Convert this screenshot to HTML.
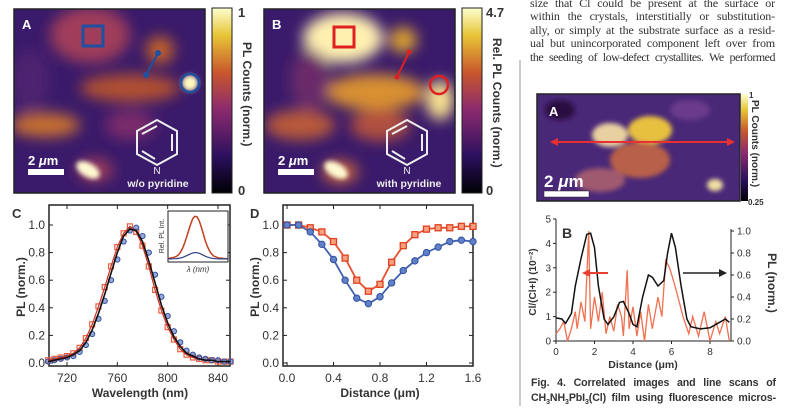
<!DOCTYPE html>
<html><head><meta charset="utf-8"><style>
body{margin:0;background:#fff;width:800px;height:406px;overflow:hidden;font-family:"Liberation Sans",sans-serif}
svg{position:absolute;left:0;top:0}
.t{font-family:"Liberation Sans",sans-serif;fill:#333}
.para{position:absolute;left:530px;top:-3px;width:245px;font-family:"Liberation Serif",serif;font-size:12px;line-height:13.4px;color:#333;letter-spacing:-0.15px}
.para div{text-align:justify;text-align-last:justify;white-space:nowrap;overflow:visible}
.cap{position:absolute;left:531px;top:376px;width:245px;font-family:"Liberation Sans",sans-serif;font-weight:bold;font-size:10.6px;line-height:15px;color:#333;text-align:justify;text-align-last:justify;letter-spacing:-0.1px}
</style></head><body>
<div class="para">
<div style="white-space:normal">size that Cl could be present at the surface or</div>
<div style="white-space:normal">within the crystals, interstitially or substitution-</div>
<div style="white-space:normal">ally, or simply at the substrate surface as a resid-</div>
<div style="white-space:normal">ual but unincorporated component left over from</div>
<div style="white-space:normal;letter-spacing:-0.5px">the seeding of low-defect crystallites. We performed</div>
</div>
<div class="cap">Fig. 4. Correlated images and line scans of CH<sub style="font-size:7px">3</sub>NH<sub style="font-size:7px">3</sub>PbI<sub style="font-size:7px">3</sub>(Cl) film using fluorescence micros-</div>
<svg id="s" width="800" height="406" xmlns="http://www.w3.org/2000/svg">
<defs>
<filter id="bl" x="-50%" y="-50%" width="200%" height="200%"><feGaussianBlur stdDeviation="7"/></filter>
<filter id="bl2" x="-50%" y="-50%" width="200%" height="200%"><feGaussianBlur stdDeviation="2.5"/></filter>
<linearGradient id="cb" x1="0" y1="1" x2="0" y2="0">
<stop offset="0" stop-color="#000004"/><stop offset="0.2" stop-color="#2c115f"/><stop offset="0.45" stop-color="#8c2a6e"/><stop offset="0.65" stop-color="#c8562c"/><stop offset="0.85" stop-color="#e8c436"/><stop offset="1" stop-color="#fcffd0"/></linearGradient>
<clipPath id="ca"><rect x="14" y="9" width="191" height="184"/></clipPath>
<clipPath id="cbp"><rect x="264" y="9" width="191" height="184"/></clipPath>
<clipPath id="cc"><rect x="537" y="94" width="203" height="107"/></clipPath>
</defs>
<line x1="520" y1="60" x2="520" y2="406" stroke="#999" stroke-width="1"/>
<g clip-path="url(#ca)">
<rect x="14" y="9" width="191" height="184" fill="#3a1a6a"/>
<g filter="url(#bl)">
<ellipse cx="90" cy="35" rx="40" ry="28" fill="#a03c5a"/>
<ellipse cx="160" cy="50" rx="14" ry="14" fill="#c0602a"/>
<ellipse cx="130" cy="88" rx="50" ry="14" fill="#b05030"/>
<ellipse cx="45" cy="125" rx="35" ry="12" fill="#c87030"/>
<ellipse cx="130" cy="125" rx="25" ry="15" fill="#7a2a6a"/>
<ellipse cx="30" cy="80" rx="20" ry="30" fill="#4e2070"/>
<ellipse cx="95" cy="170" rx="18" ry="12" fill="#9a3a5a"/>
</g>
<ellipse cx="88" cy="170" rx="13" ry="7" transform="rotate(30 88 170)" fill="#fff8d0" filter="url(#bl2)"/>
<circle cx="190" cy="83" r="8" fill="#fff8c0" filter="url(#bl2)"/>
</g>
<rect x="14" y="9" width="191" height="184" fill="none" stroke="#222" stroke-width="1.5"/>
<rect x="83" y="26" width="20" height="20" fill="none" stroke="#2050a0" stroke-width="3"/>
<line x1="158" y1="53" x2="146" y2="75" stroke="#2050a0" stroke-width="2"/>
<circle cx="158" cy="53" r="3" fill="#2050a0"/><circle cx="146" cy="75" r="3" fill="#2050a0"/>
<circle cx="190" cy="83" r="9" fill="none" stroke="#2050a0" stroke-width="2.5"/>
<text x="22" y="29" class="t" style="fill:#fff;font-weight:bold;font-size:13px">A</text>
<text x="28" y="165" class="t" style="fill:#fff;font-weight:bold;font-size:13px">2 <tspan font-style="italic">μ</tspan>m</text>
<rect x="28" y="169" width="36" height="6" fill="#fff"/>
<g stroke="#eee" stroke-width="2" fill="none"><polygon points="157,120 177,131 177,154 157,165 137,154 137,131"/><line x1="142" y1="134" x2="157" y2="126"/><line x1="172" y1="134" x2="172" y2="151"/><line x1="142" y1="151" x2="155" y2="159"/></g>
<text x="157" y="174" class="t" text-anchor="middle" style="fill:#eee;font-size:10px">N</text>
<text x="158" y="187" class="t" text-anchor="middle" style="fill:#eee;font-size:10.5px;font-weight:bold">w/o pyridine</text>
<rect x="212" y="8" width="20" height="185" fill="url(#cb)" stroke="#222"/>
<text x="238" y="17" class="t" style="font-weight:bold;font-size:13px">1</text>
<text x="238" y="195" class="t" style="font-weight:bold;font-size:13px">0</text>
<text transform="translate(243,42) rotate(90)" class="t" style="font-weight:bold;font-size:12px">PL Counts (norm.)</text>
<g clip-path="url(#cbp)">
<rect x="264" y="9" width="191" height="184" fill="#3a1a6a"/>
<g filter="url(#bl)">
<ellipse cx="343" cy="38" rx="40" ry="25" fill="#fff0b0"/>
<ellipse cx="403" cy="40" rx="14" ry="13" fill="#d8a030"/>
<ellipse cx="375" cy="92" rx="50" ry="18" fill="#d89030"/>
<ellipse cx="300" cy="125" rx="35" ry="15" fill="#b85a3a"/>
<ellipse cx="380" cy="125" rx="30" ry="16" fill="#b05040"/>
<ellipse cx="310" cy="80" rx="20" ry="30" fill="#6a2a6a"/>
<ellipse cx="440" cy="100" rx="14" ry="20" fill="#f8e090"/>
<ellipse cx="340" cy="172" rx="18" ry="12" fill="#c06040"/>
</g>
<ellipse cx="336" cy="170" rx="13" ry="7" transform="rotate(30 336 170)" fill="#fff8d0" filter="url(#bl2)"/>
</g>
<rect x="264" y="9" width="191" height="184" fill="none" stroke="#222" stroke-width="1.5"/>
<rect x="334" y="27" width="20" height="20" fill="none" stroke="#e02020" stroke-width="3"/>
<line x1="409" y1="52" x2="397" y2="77" stroke="#e02020" stroke-width="2"/>
<circle cx="409" cy="52" r="2.5" fill="#e02020"/><circle cx="397" cy="77" r="2.5" fill="#e02020"/>
<circle cx="439" cy="85" r="9" fill="none" stroke="#e02020" stroke-width="2.5"/>
<text x="272" y="29" class="t" style="fill:#fff;font-weight:bold;font-size:13px">B</text>
<text x="278" y="165" class="t" style="fill:#fff;font-weight:bold;font-size:13px">2 <tspan font-style="italic">μ</tspan>m</text>
<rect x="278" y="169" width="36" height="6" fill="#fff"/>
<g stroke="#eee" stroke-width="2" fill="none"><polygon points="407,120 427,131 427,154 407,165 387,154 387,131"/><line x1="392" y1="134" x2="407" y2="126"/><line x1="422" y1="134" x2="422" y2="151"/><line x1="392" y1="151" x2="405" y2="159"/></g>
<text x="407" y="174" class="t" text-anchor="middle" style="fill:#eee;font-size:10px">N</text>
<text x="409" y="187" class="t" text-anchor="middle" style="fill:#eee;font-size:10.5px;font-weight:bold">with pyridine</text>
<rect x="462" y="8" width="20" height="185" fill="url(#cb)" stroke="#222"/>
<text x="486" y="17" class="t" style="font-weight:bold;font-size:13px">4.7</text>
<text x="486" y="195" class="t" style="font-weight:bold;font-size:13px">0</text>
<text transform="translate(493,38) rotate(90)" class="t" style="font-weight:bold;font-size:12px">Rel. PL Counts (norm.)</text>
<g clip-path="url(#cc)">
<rect x="537" y="94" width="203" height="107" fill="#4a2878"/>
<g filter="url(#bl2)">
<ellipse cx="610" cy="135" rx="18" ry="12" fill="#e8d0a0"/>
<ellipse cx="650" cy="130" rx="22" ry="14" fill="#e8c040"/>
<ellipse cx="640" cy="160" rx="30" ry="18" fill="#b86048"/>
<ellipse cx="690" cy="110" rx="20" ry="10" fill="#6a3a8a"/>
<ellipse cx="600" cy="180" rx="25" ry="12" fill="#a05a70"/>
<ellipse cx="715" cy="185" rx="8" ry="6" fill="#f0e0a0"/>
<ellipse cx="560" cy="110" rx="15" ry="10" fill="#2a1040"/>
</g>
</g>
<rect x="537" y="94" width="203" height="107" fill="none" stroke="#222" stroke-width="1.5"/>
<line x1="552" y1="142" x2="733" y2="142" stroke="#e83030" stroke-width="2"/>
<polygon points="550,142 558,138 558,146" fill="#e83030"/><polygon points="735,142 727,138 727,146" fill="#e83030"/>
<text x="549" y="116" class="t" style="fill:#fff;font-weight:bold;font-size:13px">A</text>
<text x="544" y="187" class="t" style="fill:#fff;font-weight:bold;font-size:17px">2 <tspan font-style="italic">μ</tspan>m</text>
<rect x="544" y="191" width="45" height="6" fill="#fff" stroke="#222" stroke-width="0.5"/>
<rect x="741" y="94" width="7" height="107" fill="url(#cb)"/>
<text x="749" y="98" class="t" style="font-weight:bold;font-size:8px">1</text>
<text x="748" y="205" class="t" style="font-weight:bold;font-size:8px">0.25</text>
<text transform="translate(752,100) rotate(90)" class="t" style="font-weight:bold;font-size:10px">PL Counts (norm.)</text>
<g id="C"></g><g id="D"></g><g id="E"></g>
</svg>
<script>
const wlC = [705,710,715,720,725,730,735,740,745,750,755,760,765,770,775,780,785,790,795,800,805,810,815,820,825,830,835,840,845,850];
const plRed = [0.02,0.03,0.04,0.05,0.07,0.11,0.18,0.28,0.41,0.55,0.70,0.84,0.94,0.99,0.95,0.85,0.70,0.53,0.38,0.26,0.17,0.10,0.06,0.04,0.03,0.02,0.02,0.01,0.01,0.01];
const plBlue = [0.01,0.02,0.03,0.04,0.05,0.08,0.13,0.21,0.32,0.45,0.60,0.75,0.88,0.96,0.98,0.92,0.80,0.64,0.48,0.34,0.23,0.15,0.09,0.06,0.04,0.03,0.02,0.02,0.01,0.01];
const plFit = [0.01,0.02,0.03,0.04,0.06,0.09,0.15,0.24,0.36,0.50,0.65,0.80,0.92,0.97,0.96,0.88,0.74,0.58,0.42,0.29,0.19,0.12,0.07,0.05,0.03,0.02,0.02,0.01,0.01,0.01];
const xTicksC = [720,760,800,840];
const yTicks = [0.0,0.2,0.4,0.6,0.8,1.0];
const distD = [0,0.1,0.2,0.3,0.4,0.5,0.6,0.7,0.8,0.9,1.0,1.1,1.2,1.3,1.4,1.5,1.6];
const dRed = [1.0,1.0,0.98,0.95,0.88,0.76,0.60,0.52,0.57,0.73,0.85,0.93,0.97,0.98,0.98,0.99,0.99];
const dBlue = [1.0,1.0,0.95,0.86,0.75,0.60,0.47,0.43,0.48,0.58,0.67,0.74,0.80,0.84,0.88,0.89,0.88];
const xTicksD = [0.0,0.4,0.8,1.2,1.6];
const distPL = [0,0.3,0.5,0.8,1.0,1.3,1.6,1.8,2.0,2.2,2.5,2.7,3.0,3.3,3.5,3.8,4.0,4.2,4.5,4.8,5.0,5.3,5.6,5.8,6.0,6.2,6.5,6.8,7.0,7.5,8.0,8.5,8.8,9.0];
const plLine = [0.21,0.2,0.16,0.25,0.5,0.75,0.97,0.98,0.85,0.5,0.2,0.15,0.22,0.35,0.36,0.25,0.15,0.13,0.4,0.6,0.58,0.5,0.55,0.8,0.98,0.85,0.5,0.2,0.13,0.11,0.12,0.17,0.2,0.17];
const distCl = [0,0.2,0.4,0.6,0.8,1.0,1.1,1.3,1.5,1.7,1.8,2.0,2.2,2.4,2.6,2.8,3.0,3.2,3.4,3.5,3.7,3.8,4.0,4.2,4.4,4.6,4.8,5.0,5.3,5.5,5.7,5.9,6.2,6.6,6.9,7.1,7.4,7.7,8.0,8.3,8.5,8.8,9.0];
const clVals = [0.3,0.5,0.8,0.0,0.5,1.2,0.5,1.6,0.8,4.5,0.5,1.8,0.8,2.0,0.3,1.0,0.4,1.5,1.0,0.2,2.9,0.5,1.4,0.2,1.2,0.0,1.5,0.5,1.8,1.0,3.3,3.0,2.2,1.0,0.3,1.0,0.2,1.2,0.0,0.8,0.3,1.0,0.0];
const xTicksE = [0,2,4,6,8];
const yTicksL = [0,1,2,3,4,5];
const yTicksR = [0.0,0.2,0.4,0.6,0.8,1.0];

const NS='http://www.w3.org/2000/svg';
function mk(p,tag,a){const e=document.createElementNS(NS,tag);for(const k in a)e.setAttribute(k,a[k]);p.appendChild(e);return e;}
function txt(p,x,y,s,size,anchor,extra){const e=mk(p,'text',{x:x,y:y,'font-size':size,'text-anchor':anchor||'middle',class:'t'});if(extra)e.setAttribute('style',extra);e.textContent=s;return e;}
function path(xs,ys,fx,fy){return xs.map((v,i)=>(i?'L':'M')+fx(v).toFixed(1)+','+fy(ys[i]).toFixed(1)).join('');}

(function(){
const g=document.getElementById('C');
const L=49,R=230,T=205,B=366;
const fx=v=>67+(v-720)*(218-67)/120, fy=v=>363-v*138;
mk(g,'rect',{x:L,y:T,width:R-L,height:B-T,fill:'none',stroke:'#222','stroke-width':1.5});
xTicksC.forEach(v=>{const t=mk(g,'line',{x1:fx(v),x2:fx(v),y1:B,y2:B-4,stroke:'#222'});mk(g,'line',{x1:fx(v),x2:fx(v),y1:T,y2:T+4,stroke:'#222'});txt(g,fx(v),382,String(v),12);});
yTicks.forEach(v=>{mk(g,'line',{x1:L,x2:L+4,y1:fy(v),y2:fy(v),stroke:'#222'});mk(g,'line',{x1:R,x2:R-4,y1:fy(v),y2:fy(v),stroke:'#222'});txt(g,L-4,fy(v)+4,v.toFixed(1),12,'end');});
txt(g,140,397,'Wavelength (nm)',12,'middle','font-weight:bold');
const yl=txt(g,0,0,'PL (norm.)',12,'middle','font-weight:bold');yl.setAttribute('transform','translate(25,287) rotate(-90)');
txt(g,12,218,'C',13,'start','font-weight:bold');
const r=mk(g,'g',{});
wlC.forEach((w,i)=>{mk(r,'rect',{x:fx(w)-2.5,y:fy(plRed[i])-2.5,width:5,height:5,fill:'none',stroke:'#e86040','stroke-width':1.2});});
const b=mk(g,'g',{});
wlC.forEach((w,i)=>{mk(b,'circle',{cx:fx(w),cy:fy(plBlue[i]),r:2.6,fill:'#5070c0','fill-opacity':0.6,stroke:'#3050a0'});});
mk(g,'path',{d:path(wlC,plRed,fx,fy),fill:'none',stroke:'#d03020','stroke-width':1.2});
const f=mk(g,'path',{d:path(wlC,plFit,fx,fy),fill:'none',stroke:'#111','stroke-width':1.6});
const il=168,ir=228,it=211,ib=262;
mk(g,'rect',{x:il,y:it,width:ir-il,height:ib-it,fill:'#fff',stroke:'#222'});
const ifx=v=>il+(v-705)*(ir-il)/145, ify=v=>ib-3-v*44;
mk(g,'path',{d:path(wlC,plFit,ifx,ify),fill:'none',stroke:'#c04020','stroke-width':1.5});
mk(g,'path',{d:path(wlC,plFit.map(v=>v*0.15),ifx,ify),fill:'none',stroke:'#304080','stroke-width':1.2});
const il1=txt(g,0,0,'Rel. PL Int.',7,'middle');il1.setAttribute('transform','translate(164,236) rotate(-90)');
txt(g,198,272,'λ (nm)',8,'middle','font-style:italic');
})();

(function(){
const g=document.getElementById('D');
const L=283,R=473,T=205,B=366;
const fx=v=>287+v*(473-287)/1.6, fy=v=>363-v*138;
mk(g,'rect',{x:L,y:T,width:R-L,height:B-T,fill:'none',stroke:'#222','stroke-width':1.5});
xTicksD.forEach(v=>{mk(g,'line',{x1:fx(v),x2:fx(v),y1:B,y2:B-4,stroke:'#222'});mk(g,'line',{x1:fx(v),x2:fx(v),y1:T,y2:T+4,stroke:'#222'});txt(g,fx(v),382,v.toFixed(1),12);});
yTicks.forEach(v=>{mk(g,'line',{x1:L,x2:L+4,y1:fy(v),y2:fy(v),stroke:'#222'});mk(g,'line',{x1:R,x2:R-4,y1:fy(v),y2:fy(v),stroke:'#222'});txt(g,L-4,fy(v)+4,v.toFixed(1),12,'end');});
txt(g,380,397,'Distance (μm)',12,'middle','font-weight:bold');
const yl=txt(g,0,0,'PL (norm.)',12,'middle','font-weight:bold');yl.setAttribute('transform','translate(259,287) rotate(-90)');
txt(g,250,218,'D',13,'start','font-weight:bold');
const lr=mk(g,'path',{d:path(distD,dRed,fx,fy),fill:'none',stroke:'#e85030','stroke-width':1.8});


const lb=mk(g,'path',{d:path(distD,dBlue,fx,fy),fill:'none',stroke:'#4060b0','stroke-width':1.8});


distD.forEach((d,i)=>{mk(g,'rect',{x:fx(d)-3,y:fy(dRed[i])-3,width:6,height:6,fill:'#f8a080',stroke:'#e04020','stroke-width':1.3});mk(g,'circle',{cx:fx(d),cy:fy(dBlue[i]),r:3.2,fill:'#6080c8',stroke:'#3050a0'});});
})();

(function(){
const g=document.getElementById('E');
const L=556,R=731,T=219,B=341;
const fx=v=>556+v*19.25, fyl=v=>341-v*24.4, fyr=v=>341-v*110;
mk(g,'line',{x1:L,x2:L,y1:T,y2:B,stroke:'#222'});mk(g,'line',{x1:R,x2:R,y1:T+10,y2:B,stroke:'#222'});mk(g,'line',{x1:L,x2:R,y1:B,y2:B,stroke:'#222'});
xTicksE.forEach(v=>{mk(g,'line',{x1:fx(v),x2:fx(v),y1:B,y2:B+3,stroke:'#222'});txt(g,fx(v),355,String(v),10);});
yTicksL.forEach(v=>{mk(g,'line',{x1:L-3,x2:L,y1:fyl(v),y2:fyl(v),stroke:'#222'});txt(g,L-5,fyl(v)+3.5,String(v),10,'end');});
yTicksR.forEach(v=>{mk(g,'line',{x1:R,x2:R+3,y1:fyr(v),y2:fyr(v),stroke:'#222'});txt(g,R+6,fyr(v)+3.5,v.toFixed(1),10,'start');});
txt(g,643,368,'Distance (μm)',10.5,'middle','font-weight:bold');
const y1=txt(g,0,0,'Cl/(Cl+I) (10⁻²)',10,'middle','font-weight:bold');y1.setAttribute('transform','translate(536,282) rotate(-90)');
const y2=txt(g,0,0,'PL (norm.)',12,'middle','font-weight:bold');y2.setAttribute('transform','translate(768,283) rotate(90)');
txt(g,562,238,'B',14,'start','font-weight:bold');
const cl=mk(g,'path',{d:path(distCl,clVals,fx,fyl),fill:'none',stroke:'#f07050','stroke-width':1.3});


const pl=mk(g,'path',{d:path(distPL,plLine,fx,fyr),fill:'none',stroke:'#111','stroke-width':1.5});


mk(g,'line',{x1:588,x2:608,y1:273,y2:273,stroke:'#e84030','stroke-width':2});mk(g,'polygon',{points:'582,273 590,269 590,277',fill:'#e84030'});
mk(g,'line',{x1:683,x2:720,y1:273,y2:273,stroke:'#222','stroke-width':1.5});mk(g,'polygon',{points:'727,273 719,269 719,277',fill:'#222'});
})();
</script>
</body></html>
